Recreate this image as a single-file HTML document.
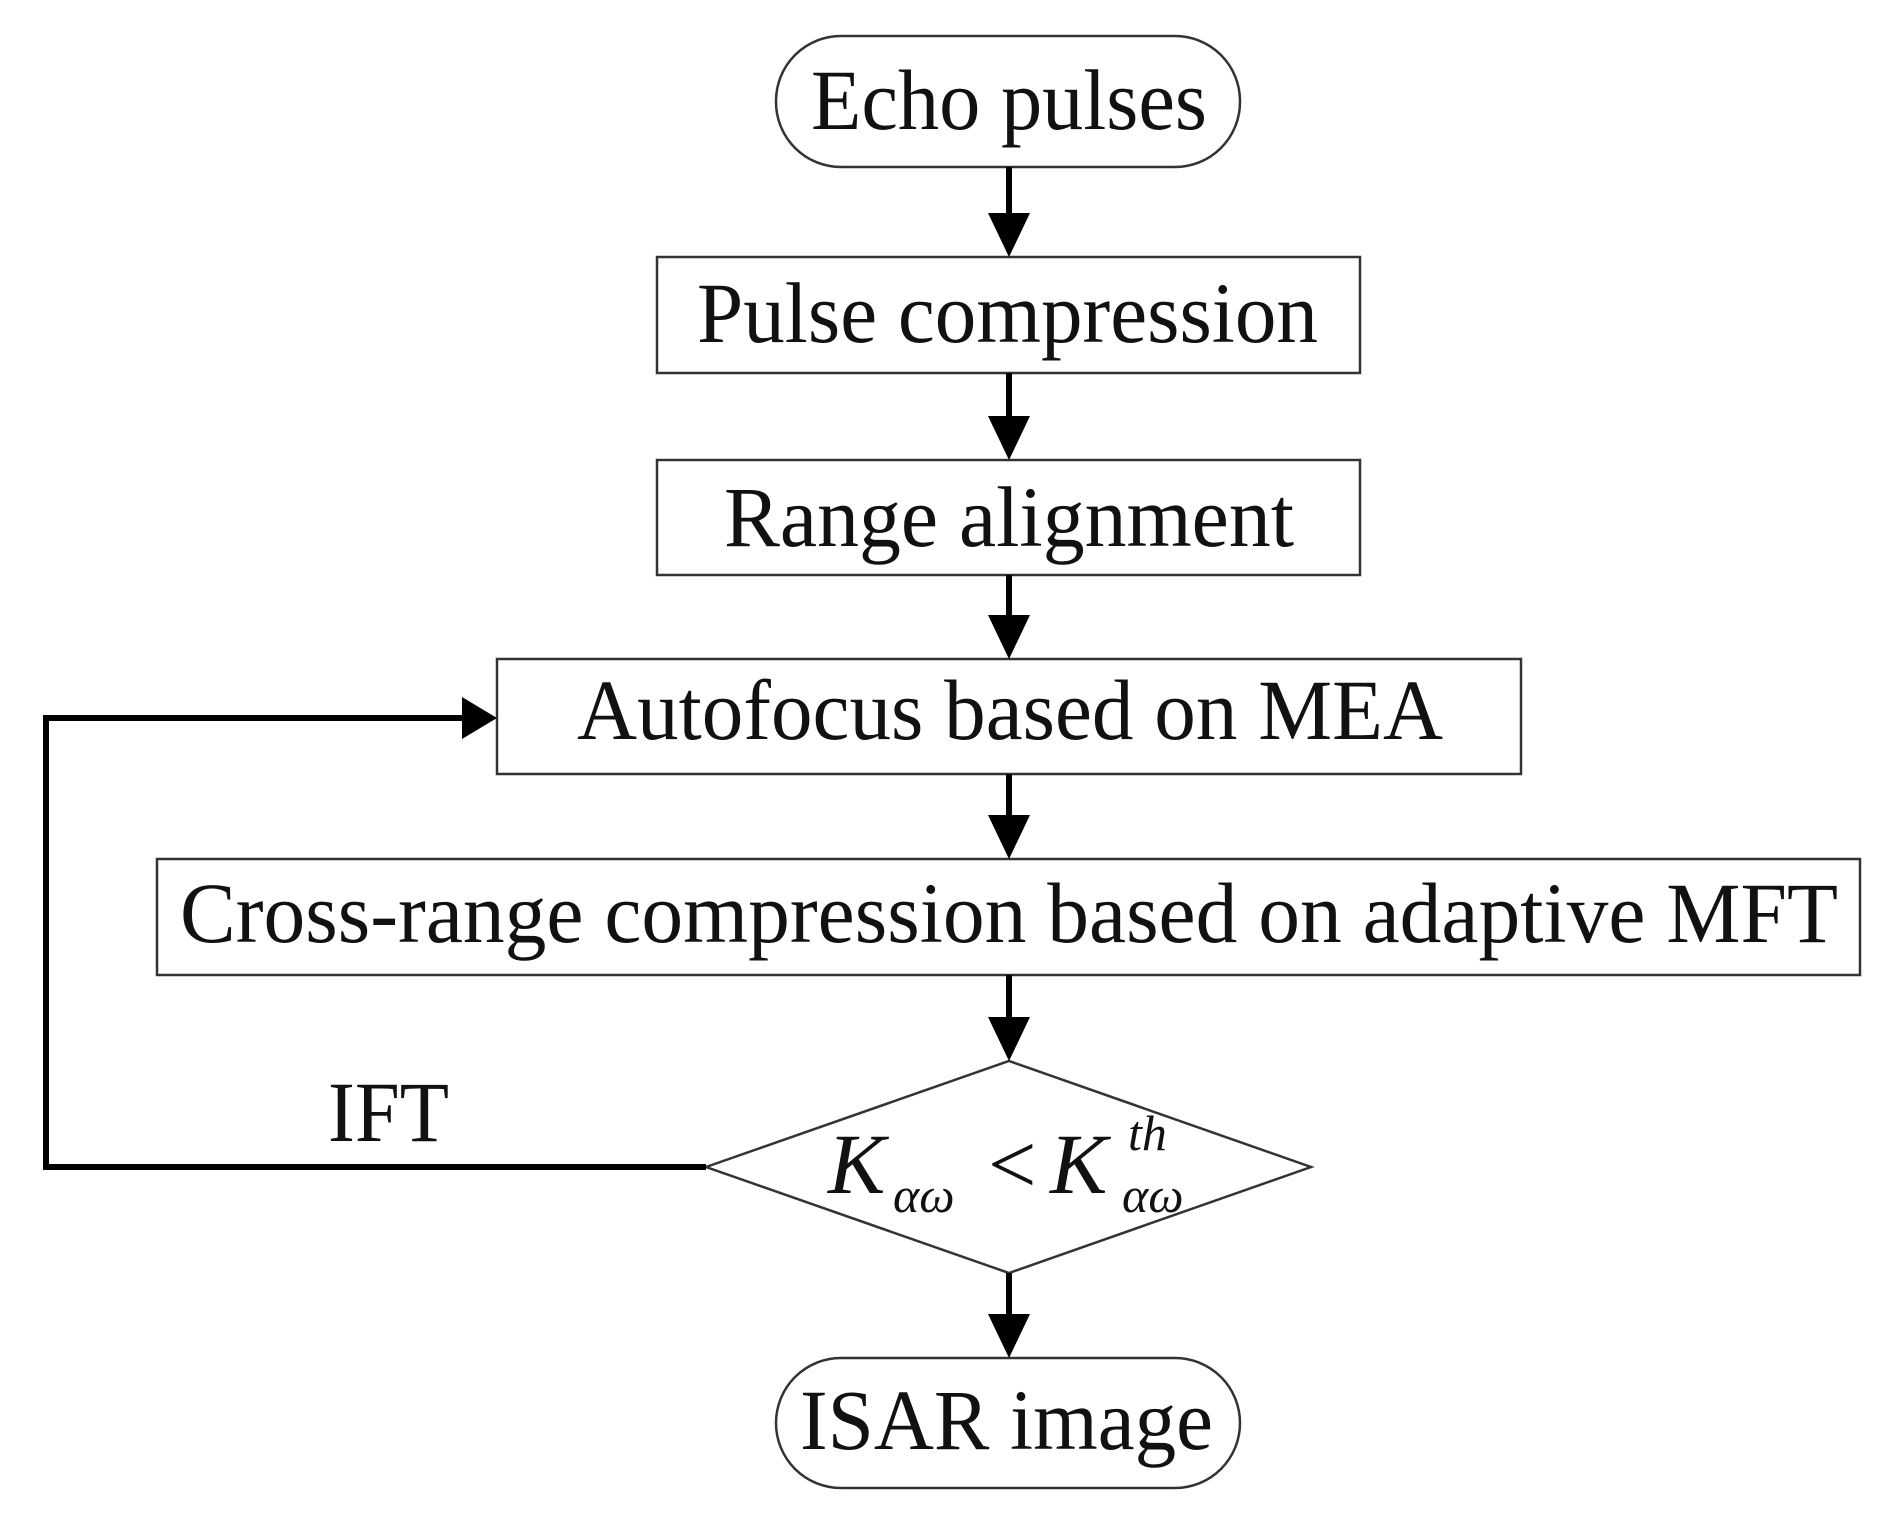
<!DOCTYPE html>
<html><head><meta charset="utf-8"><style>html,body{margin:0;padding:0;background:#fff}</style></head><body>
<svg width="1892" height="1527" viewBox="0 0 1892 1527" xmlns="http://www.w3.org/2000/svg" font-family="'Liberation Serif', serif" fill="#111">
<g fill="#fff" stroke="#333" stroke-width="2.5">
<rect x="776" y="36" width="464" height="131" rx="65"/>
<rect x="657" y="257" width="703" height="116"/>
<rect x="657" y="460" width="703" height="115"/>
<rect x="497" y="659" width="1024" height="115"/>
<rect x="157" y="859" width="1703" height="116"/>
<polygon points="706,1167 1009,1061 1311,1167 1009,1273"/>
<rect x="776" y="1358" width="464" height="130" rx="65"/>
</g>
<g stroke="#000" stroke-width="6" fill="none">
<line x1="1009" y1="167" x2="1009" y2="215"/>
<line x1="1009" y1="373" x2="1009" y2="418"/>
<line x1="1009" y1="575" x2="1009" y2="617"/>
<line x1="1009" y1="774" x2="1009" y2="817"/>
<line x1="1009" y1="975" x2="1009" y2="1019"/>
<line x1="1009" y1="1273" x2="1009" y2="1316"/>
<polyline points="706,1167 46,1167 46,718 465,718"/>
</g>
<g fill="#000">
<polygon points="988,213 1030,213 1009,257"/>
<polygon points="988,416 1030,416 1009,460"/>
<polygon points="988,615 1030,615 1009,659"/>
<polygon points="988,815 1030,815 1009,859"/>
<polygon points="988,1017 1030,1017 1009,1061"/>
<polygon points="988,1314 1030,1314 1009,1358"/>
<polygon points="462,697 462,739 497,718"/>
</g>
<g font-size="86">
<text x="811" y="129" textLength="396" lengthAdjust="spacingAndGlyphs">Echo pulses</text>
<text x="697" y="342" textLength="621" lengthAdjust="spacingAndGlyphs">Pulse compression</text>
<text x="724" y="546" textLength="570" lengthAdjust="spacingAndGlyphs">Range alignment</text>
<text x="577" y="739" textLength="866" lengthAdjust="spacingAndGlyphs">Autofocus based on MEA</text>
<text x="180" y="942" textLength="1658" lengthAdjust="spacingAndGlyphs">Cross-range compression based on adaptive MFT</text>
<text x="800" y="1449" textLength="413" lengthAdjust="spacingAndGlyphs">ISAR image</text>
<text x="328" y="1141" textLength="121" lengthAdjust="spacingAndGlyphs">IFT</text>
<text x="828" y="1193" font-style="italic">K</text>
<text x="893" y="1212" font-size="50" font-style="italic">αω</text>
<text x="988" y="1193">&lt;</text>
<text x="1050" y="1193" font-style="italic">K</text>
<text x="1128" y="1150" font-size="50" font-style="italic">th</text>
<text x="1122" y="1212" font-size="50" font-style="italic">αω</text>
</g>
</svg>
</body></html>
